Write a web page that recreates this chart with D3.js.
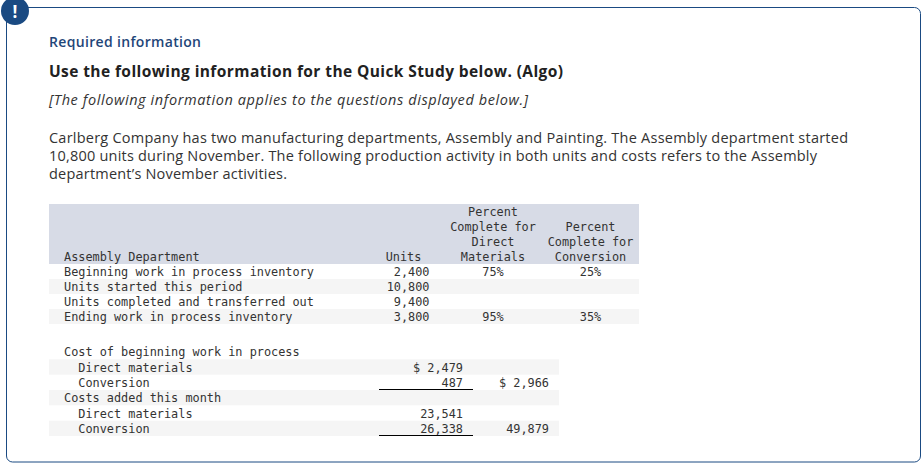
<!DOCTYPE html>
<html>
<head>
<meta charset="utf-8">
<script src="https://cdnjs.cloudflare.com/ajax/libs/d3/7.8.5/d3.min.js"></script>
<style>
html, body { margin: 0; padding: 0; background: #fff; }
svg { display: block; }
.mono { font-family: "DejaVu Sans Mono", monospace; font-size: 11.87px; fill: #333; white-space: pre; }
.sans { font-family: "Open Sans", sans-serif; }
</style>
</head>
<body>
<svg id="chart" width="923" height="464"></svg>
<script>
// top table
var rowLabels = ["Beginning work in process inventory", "Units started this period", "Units completed and transferred out", "Ending work in process inventory"];
var units = [2400, 10800, 9400, 3800];
var pctMaterials = [75, null, null, 95];
var pctConversion = [25, null, null, 35];
var headUnits = ["Units"];
var headMaterials = ["Percent", "Complete for", "Direct", "Materials"];
var headConversion = ["Percent", "Complete for", "Conversion"];

// bottom table
var costLabels = ["Cost of beginning work in process", "  Direct materials", "  Conversion", "Costs added this month", "  Direct materials", "  Conversion"];
var costDetail = [null, 2479, 487, null, 23541, 26338];
var costTotal = [null, null, 2966, null, null, 49879];
var dollarRows = [1, 2];

var svg = d3.select("#chart");
var fmt = d3.format(",");
var navy = "#1a4a82";

// frame and badge
svg.append("rect")
	.attr("x", 6.5).attr("y", 7.5).attr("width", 914).attr("height", 454.5)
	.attr("rx", 6).attr("fill", "#fff").attr("stroke", navy).attr("stroke-width", 1);
svg.append("circle").attr("cx", 15).attr("cy", 11).attr("r", 14).attr("fill", navy);
svg.append("text").attr("x", 15).attr("y", 18).attr("text-anchor", "middle")
	.attr("fill", "#fff").attr("font-family", "Open Sans, sans-serif").attr("font-weight", 700).attr("font-size", 17).text("!");

// intro text, textLength keeps the line ends where the reference has them
var intro = [
	{ t: "Required information", y: 47, len: 152, size: 14, weight: 600, fill: "#1f4679" },
	{ t: "Use the following information for the Quick Study below. (Algo)", y: 77, len: 514, size: 15.5, weight: 700, fill: "#212121" },
	{ t: "[The following information applies to the questions displayed below.]", y: 105, len: 479, size: 14.5, style: "italic", fill: "#333" },
	{ t: "Carlberg Company has two manufacturing departments, Assembly and Painting. The Assembly department started", y: 143, len: 799, size: 14.5, fill: "#333" },
	{ t: "10,800 units during November. The following production activity in both units and costs refers to the Assembly", y: 161, len: 768, size: 14.5, fill: "#333" },
	{ t: "department\u2019s November activities.", y: 179, len: 238, size: 14.5, fill: "#333" }
];
svg.selectAll(".intro").data(intro).enter().append("text")
	.attr("class", "intro sans")
	.attr("x", 49)
	.attr("y", function(d){ return d.y; })
	.attr("font-size", function(d){ return d.size; })
	.attr("font-weight", function(d){ return d.weight || 400; })
	.attr("font-style", function(d){ return d.style || "normal"; })
	.attr("fill", function(d){ return d.fill; })
	.attr("textLength", function(d){ return d.len; })
	.attr("lengthAdjust", "spacing")
	.text(function(d){ return d.t; });

// scales
var headY = d3.scaleBand().domain(d3.range(4)).range([204, 264]);
var rowY = d3.scaleBand().domain(d3.range(rowLabels.length)).range([264, 324]);
var costY = d3.scaleBand().domain(d3.range(costLabels.length)).range([344, 436]);
var colX = d3.scaleOrdinal()
	.domain(["label", "units", "unitsHead", "materials", "conversion", "detail", "total"])
	.range([64, 429.5, 403.5, 493, 590.5, 463, 549]);

function cellText(cls, col, y, anchor, txt){
	svg.append("text").attr("class", "mono " + cls)
		.attr("x", colX(col))
		.attr("y", y)
		.attr("dy", "0.33em")
		.attr("text-anchor", anchor)
		.text(txt);
}

// backgrounds
svg.append("rect").attr("x", 49).attr("y", headY(0)).attr("width", 590)
	.attr("height", headY.step() * 4).attr("fill", "#d7dbe6");
svg.selectAll(".rowBg").data([1, 3]).enter().append("rect")
	.attr("class", "rowBg").attr("x", 49).attr("width", 590)
	.attr("y", function(d){ return rowY(d); })
	.attr("height", rowY.bandwidth()).attr("fill", "#f5f5f5");
svg.selectAll(".costBg").data([1, 3, 5]).enter().append("rect")
	.attr("class", "costBg").attr("x", 49).attr("width", 510)
	.attr("y", function(d){ return costY(d); })
	.attr("height", costY.bandwidth()).attr("fill", "#f5f5f5");

// text sits a little under the middle of its band
function bandMid(scale, i){ return scale(i) + scale.bandwidth() / 2 + 1; }

// header, each column sits on the bottom of the header block
cellText("head", "label", bandMid(headY, 3), "start", "Assembly Department");
headUnits.forEach(function(t){ cellText("head", "unitsHead", bandMid(headY, 3), "middle", t); });
headMaterials.forEach(function(t, i){ cellText("head", "materials", bandMid(headY, i), "middle", t); });
headConversion.forEach(function(t, i){ cellText("head", "conversion", bandMid(headY, i + 1), "middle", t); });

// top rows
rowLabels.forEach(function(t, i){
	var y = bandMid(rowY, i);
	cellText("row", "label", y, "start", t);
	cellText("row", "units", y, "end", fmt(units[i]));
	if (pctMaterials[i] !== null) cellText("row", "materials", y, "middle", pctMaterials[i] + "%");
	if (pctConversion[i] !== null) cellText("row", "conversion", y, "middle", pctConversion[i] + "%");
});

// bottom rows
costLabels.forEach(function(t, i){
	var y = bandMid(costY, i) - 0.4;
	cellText("cost", "label", y, "start", t);
	if (costDetail[i] !== null) {
		var pre = i === dollarRows[0] ? "$ " : "";
		cellText("cost", "detail", y, "end", pre + fmt(costDetail[i]));
	}
	if (costTotal[i] !== null) {
		var preT = i === dollarRows[1] ? "$ " : "";
		cellText("cost", "total", y, "end", preT + fmt(costTotal[i]));
	}
});

// subtotal rules
svg.selectAll(".rule").data([2, 5]).enter().append("line")
	.attr("class", "rule")
	.attr("x1", 379).attr("x2", 473)
	.attr("y1", function(d){ return costY(d) + costY.bandwidth() - 0.5; })
	.attr("y2", function(d){ return costY(d) + costY.bandwidth() - 0.5; })
	.attr("stroke", "#000").attr("stroke-width", 1);
</script>
</body>
</html>
